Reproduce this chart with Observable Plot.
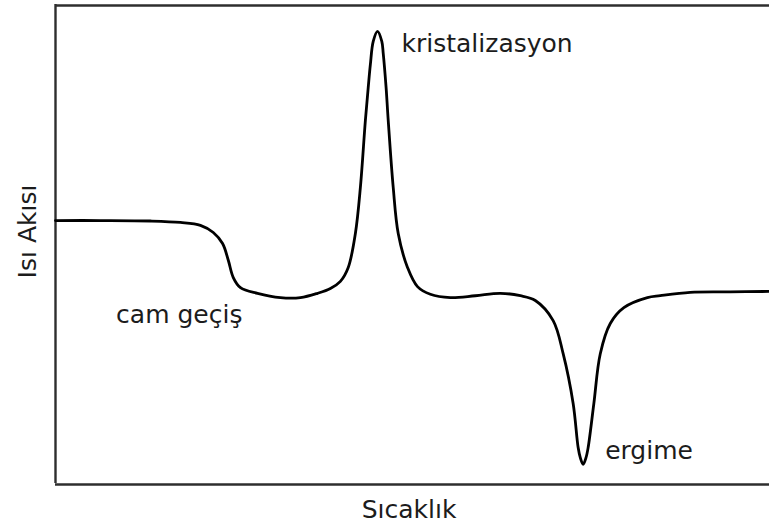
<!DOCTYPE html>
<html>
<head>
<meta charset="utf-8">
<script src="https://cdn.jsdelivr.net/npm/d3@7"></script>
<script src="https://cdn.jsdelivr.net/npm/@observablehq/plot@0.6"></script>
<style>
  body { margin: 0; background: #fff; }
</style>
</head>
<body>
<div id="chart"></div>
<script>
// DSC thermogram: heat flow against temperature (arbitrary units, 0–100)
const temperature = [
  0, 6.3, 13.3, 17.5, 20.3, 22.1, 23.4, 24.2, 24.9, 25.9,
  28.3, 31.5, 34.3, 36.7, 38.5, 39.9, 41.0, 42.0, 42.7, 43.4,
  43.8, 44.1, 44.5, 45.1, 45.7, 45.9, 46.3, 46.6, 47.3, 48.0,
  49.3, 50.7, 52.5, 55.3, 58.8, 62.3, 65.1, 67.2, 69.7, 71.1,
  72.5, 73.2, 73.5, 73.9, 74.3, 74.6, 75.4, 76.3, 77.7, 79.6,
  82.9, 84.7, 88.9, 94.5, 100
];
const heatFlow = [
  54.9, 54.9, 54.8, 54.5, 53.9, 52.4, 50.1, 46.6, 43.0, 40.9,
  39.7, 38.8, 38.8, 39.7, 40.7, 42.2, 45.1, 52.2, 61.8, 75.8,
  82.7, 87.5, 92.3, 94.4, 92.3, 89.8, 82.7, 75.8, 61.8, 52.2,
  45.1, 41.1, 39.5, 38.8, 39.2, 39.7, 39.2, 38.2, 34.0, 27.1,
  16.7, 7.5, 5.4, 4.0, 5.4, 7.5, 16.7, 27.1, 33.4, 36.7,
  38.8, 39.2, 39.9, 40.0, 40.1
];

// Thermal events and the curve temperatures they describe
const eventLabels = ["cam geçiş", "kristalizasyon", "ergime"];
const eventTemperature = [25.9, 45.1, 73.9];

const xLabel = "Sıcaklık";
const yLabel = "Isı Akısı";

const curve = temperature.map((t, i) => ({t, q: heatFlow[i]}));
const events = eventLabels.map((label, i) => {
  const j = temperature.indexOf(eventTemperature[i]);
  return {label, t: temperature[j], q: heatFlow[j]};
});

// label placement relative to each event point
const eventStyle = {
  "cam geçiş": {textAnchor: "end", dx: 2, dy: 35},
  "kristalizasyon": {textAnchor: "start", dx: 24, dy: 21},
  "ergime": {textAnchor: "start", dx: 22, dy: -5}
};

const font = "DejaVu Sans";
const ink = "#1c1c1c";

const chart = Plot.plot({
  width: 769,
  height: 528,
  marginLeft: 55,
  marginRight: 0,
  marginTop: 4,
  marginBottom: 45,
  style: {fontFamily: font, background: "#fff"},
  x: {domain: [0, 100], axis: null},
  y: {domain: [0, 100], axis: null},
  marks: [
    // open frame: left, top and bottom edges
    Plot.ruleX([0], {stroke: "#2e2e2e", strokeWidth: 2.4}),
    Plot.ruleY([100], {stroke: "#2e2e2e", strokeWidth: 2.4, dy: 1}),
    Plot.ruleY([0], {stroke: "#2e2e2e", strokeWidth: 2.4, dy: 1}),
    Plot.line(curve, {x: "t", y: "q", curve: "catmull-rom", stroke: "#000", strokeWidth: 2.8}),
    ...events.map(e => Plot.text([e], {
      x: "t", y: "q", text: "label",
      lineAnchor: "bottom", fontSize: 25, fill: ink,
      ...eventStyle[e.label]
    })),
    Plot.text([xLabel], {
      frameAnchor: "bottom", lineAnchor: "bottom", textAnchor: "middle",
      dx: -3.5, dy: 34, fontSize: 25, fill: ink
    }),
    Plot.text([yLabel], {
      frameAnchor: "left", lineAnchor: "bottom", textAnchor: "middle", rotate: -90,
      dx: -20, dy: -12.5, fontSize: 25, fill: ink
    })
  ]
});

document.getElementById("chart").append(chart);
</script>
</body>
</html>
